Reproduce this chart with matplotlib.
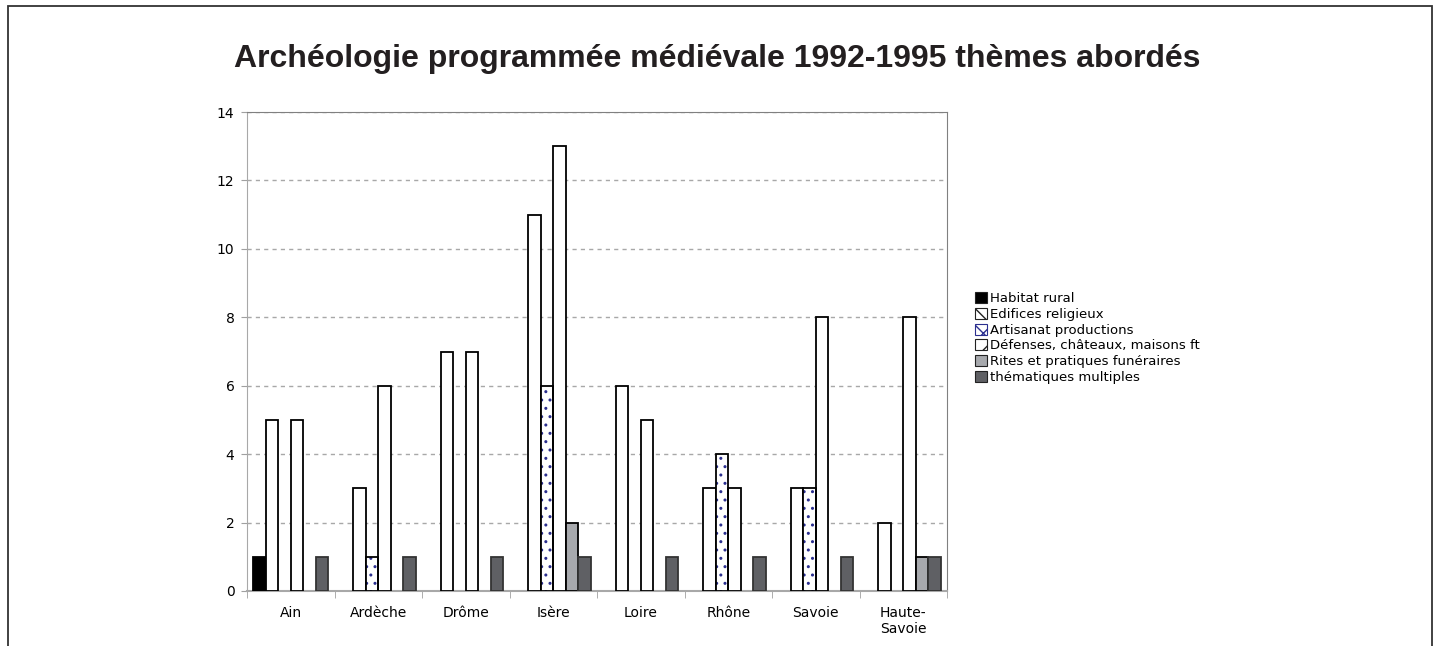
import matplotlib
matplotlib.use('Agg')
import matplotlib.pyplot as plt
from matplotlib import font_manager
from matplotlib.patches import Patch, Rectangle
import numpy as np

# departements and counts per theme
departements = ['Ain', 'Ardèche', 'Drôme', 'Isère', 'Loire', 'Rhône', 'Savoie', 'Haute-\nSavoie']
habitat_rural = [1, 0, 0, 0, 0, 0, 0, 0]
edifices_religieux = [5, 3, 7, 11, 6, 3, 3, 2]
artisanat = [0, 1, 0, 6, 0, 4, 3, 0]
defenses = [5, 6, 7, 13, 5, 3, 8, 8]
rites = [0, 0, 0, 2, 0, 0, 0, 1]
multiples = [1, 1, 1, 1, 1, 1, 1, 1]

series = [
    ('Habitat rural', habitat_rural, '#000000', ''),
    ('Edifices religieux', edifices_religieux, '#ffffff', '\\'),
    ('Artisanat productions', artisanat, '#ffffff', 'xx'),
    ('Défenses, châteaux, maisons ft', defenses, '#ffffff', '/'),
    ('Rites et pratiques funéraires', rites, '#a7a9ad', ''),
    ('thématiques multiples', multiples, '#5f6064', ''),
]


def title_font():
    # want the plain (not narrow) bold Liberation Sans
    for f in font_manager.fontManager.ttflist:
        if f.name == 'Liberation Sans' and f.weight in (700, 'bold') and f.style == 'normal':
            return font_manager.FontProperties(fname=f.fname, size=23)
    return font_manager.FontProperties(family='DejaVu Sans', weight='bold', size=21)


W, H = 1434, 646
fig = plt.figure(figsize=(W / 100, H / 100), dpi=100)
ax = fig.add_axes([247 / W, 1 - 591 / H, 700 / W, 479 / H])

# outer chart frame
fig.patches.append(Rectangle((8 / W, -0.02), 1424 / W, 1 - 6 / H + 0.02,
                             transform=fig.transFigure, fill=False,
                             edgecolor='#333333', linewidth=1.3))

x = np.arange(len(departements))
bw = 1 / 7.
for i, (name, vals, col, hatch) in enumerate(series):
    vals = np.array(vals)
    keep = vals > 0
    pos = (x + (i - 2.5) * bw)[keep]
    vals = vals[keep]
    if name.startswith('Artisanat'):
        # blue dotted fill under a black outline
        ax.bar(pos, vals, bw, color='white', edgecolor='#2b2f8f', hatch='..',
               linewidth=0, zorder=3)
        ax.bar(pos, vals, bw, fill=False, edgecolor='black', linewidth=1.3, zorder=4)
    else:
        ax.bar(pos, vals, bw, color=col, edgecolor='black' if col != '#5f6064' else '#333333',
               linewidth=1.3, zorder=3)

ax.set_xlim(-0.5, len(departements) - 0.5)
ax.set_ylim(0, 14)
ax.set_yticks(np.arange(0, 15, 2))
ax.set_xticks(x)
ax.set_xticklabels(departements, fontsize=10)
ax.set_xticks(np.arange(-0.5, len(departements), 1), minor=True)
ax.tick_params(axis='x', which='major', length=0, pad=11)
ax.tick_params(axis='x', which='minor', length=5, color='#a0a0a0', direction='out')
ax.tick_params(axis='y', length=4, color='#a0a0a0', labelsize=10, pad=5)
ax.yaxis.grid(True, linestyle=(0, (3, 3)), color='#a8a8a8', linewidth=1)
ax.set_axisbelow(True)
for s in ['left', 'bottom']:
    ax.spines[s].set_color('#a8a8a8')
for s in ['right', 'top']:
    ax.spines[s].set_color('#808080')
ax.spines['bottom'].set_linewidth(1.5)

fig.text(717 / W, 1 - 59 / H, 'Archéologie programmée médiévale 1992-1995 thèmes abordés',
         ha='center', va='center', fontproperties=title_font(), color='#231f20')

handles = []
for name, vals, col, hatch in series:
    ec = '#2b2f8f' if hatch == 'xx' else '#222222'
    handles.append(Patch(facecolor=col, edgecolor=ec, hatch=hatch, linewidth=0.8, label=name))
fig.legend(handles=handles, loc='upper left', bbox_to_anchor=(970 / W, 1 - 287 / H),
           frameon=False, fontsize=9.5, handlelength=0.9, handleheight=0.9,
           handletextpad=0.2, labelspacing=0.2, borderaxespad=0)

fig.savefig('out.png', dpi=100)
